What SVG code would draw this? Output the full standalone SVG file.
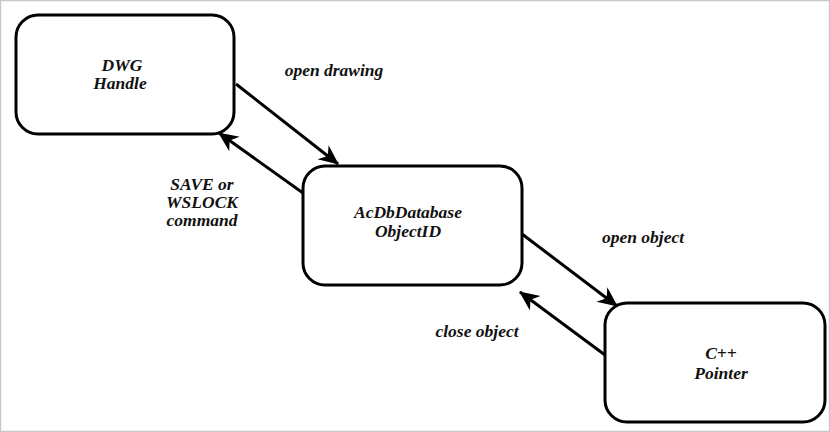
<svg xmlns="http://www.w3.org/2000/svg" width="830" height="432" viewBox="0 0 830 432">
<defs>
<style>
.node rect{fill:#fff;stroke:#000;stroke-width:3}
.lbl{font-family:"Liberation Serif","Times New Roman",serif;font-style:italic;font-weight:bold;font-size:17.5px;fill:#111;text-anchor:middle}
.conn line{stroke:#000;stroke-width:3}
</style>
<marker id="ah" markerUnits="userSpaceOnUse" viewBox="-20 -10 22 20" refX="0" refY="0" markerWidth="22" markerHeight="20" orient="auto">
<path d="M1,0 L-19,-9 L-13,0 L-19,9 Z" fill="#000"/>
</marker>
</defs>
<rect x="0.5" y="0.5" width="829" height="431" fill="#fff" stroke="#c8c8c8" stroke-width="1.5"/>
<g id="dwg-handle" class="node">
<rect x="16" y="15" width="218" height="119" rx="22"/>
<text class="lbl" x="122" y="71">DWG</text>
<text class="lbl" x="120" y="89">Handle</text>
</g>
<g id="objectid" class="node">
<rect x="303" y="166" width="219" height="119" rx="22"/>
<text class="lbl" x="408" y="218">AcDbDatabase</text>
<text class="lbl" x="408" y="237">ObjectID</text>
</g>
<g id="cpp-pointer" class="node">
<rect x="605" y="303" width="220" height="119" rx="22"/>
<text class="lbl" x="721" y="359">C++</text>
<text class="lbl" x="721" y="379">Pointer</text>
</g>
<g id="connectors" class="conn">
<line x1="236" y1="84" x2="338" y2="164" marker-end="url(#ah)"/>
<line x1="303" y1="193" x2="219" y2="133" marker-end="url(#ah)"/>
<line x1="522" y1="234" x2="617" y2="306" marker-end="url(#ah)"/>
<line x1="605" y1="355" x2="520" y2="292" marker-end="url(#ah)"/>
</g>
<g id="labels">
<text class="lbl" x="334" y="76">open drawing</text>
<text class="lbl" x="202" y="190">SAVE or</text>
<text class="lbl" x="202" y="208">WSLOCK</text>
<text class="lbl" x="202" y="226">command</text>
<text class="lbl" x="643" y="243">open object</text>
<text class="lbl" x="477" y="337">close object</text>
</g>
</svg>
